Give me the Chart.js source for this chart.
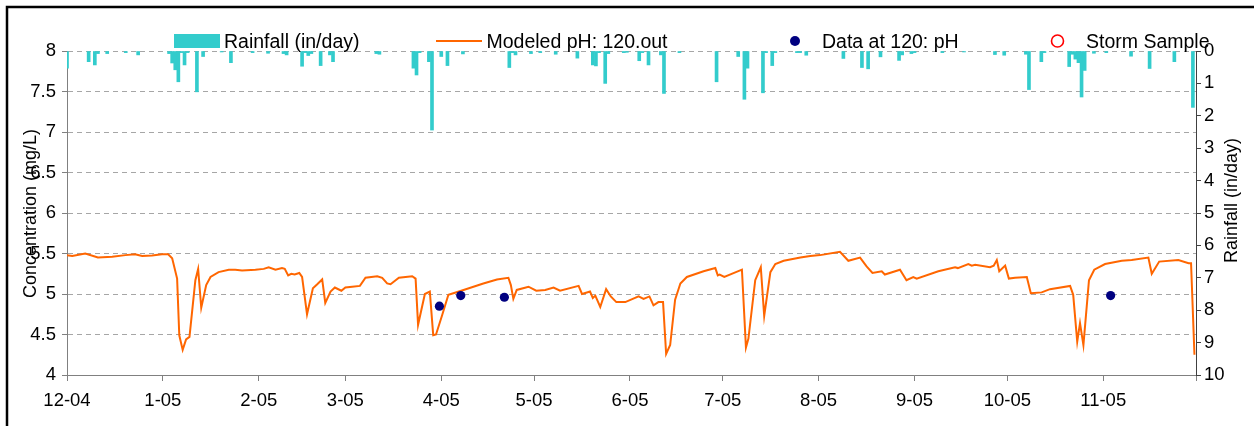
<!DOCTYPE html>
<html>
<head>
<meta charset="utf-8">
<script src="https://cdn.jsdelivr.net/npm/chart.js@4.4.1/dist/chart.umd.min.js"></script>
<style>
  html, body { margin: 0; padding: 0; background: #fff; }
  #wrap { width: 1254px; height: 426px; position: relative; }
</style>
</head>
<body>
<div id="wrap"><canvas id="c" width="1254" height="426"></canvas></div>
<script>
// ---- Data (day offsets from 1 Dec 2004) ----
const tickDays   = [0, 31, 62, 90, 121, 151, 182, 212, 243, 274, 304, 335, 365];
const tickLabels = ['12-04','1-05','2-05','3-05','4-05','5-05','6-05','7-05','8-05','9-05','10-05','11-05',''];

const rainDays   = [0,7,9,10,13,19,23,33,34,35,36,37,38,39,42,44,50,53,60,65,70,71,76,77,78,79,82,85,86,100,101,
                    112,113,114,117,118,121,123,128,143,144,145,150,153,158,165,170,171,172,174,175,180,181,185,186,188,
                    192,193,198,210,217,219,220,225,226,228,229,236,237,239,251,257,259,263,269,270,273,274,283,290,
                    300,303,310,311,315,316,324,325,326,327,328,329,332,336,344,350,358,364];
const rainValues = [0.53,0.33,0.43,0.08,0.08,0.05,0.12,0.08,0.37,0.58,0.95,0.05,0.43,0.05,1.26,0.17,0.03,0.36,0.05,0.07,0.08,0.12,0.47,0.05,0.14,0.08,0.45,0.12,0.33,0.08,0.1,
                    0.53,0.74,0.05,0.33,2.44,0.17,0.45,0.09,0.51,0.05,0.12,0.08,0.05,0.1,0.22,0.43,0.46,0.05,1.0,0.08,0.05,0.04,0.30,0.05,0.43,
                    0.12,1.31,0.05,0.95,0.17,1.49,0.53,1.29,0.05,0.45,0.05,0.05,0.05,0.13,0.23,0.51,0.55,0.18,0.29,0.12,0.08,0.05,0.05,0.03,
                    0.11,0.13,0.1,1.19,0.33,0.05,0.48,0.1,0.25,0.36,1.42,0.6,0.07,0.05,0.16,0.54,0.33,1.74];

const phDays   = [0,1.7,5.9,10,14.6,18.9,22,24.3,27.5,30.7,32.7,34,35.6,36.3,37.4,38.5,39.6,41.5,42.4,43.4,45,46.4,49,52.3,54.4,56.6,60.9,63.6,65.2,67.4,69.5,70.4,71.5,72.5,73.6,75.1,76,77.6,79.5,80.9,82.5,83.5,85.2,86.6,88.7,90,92.2,94.7,96.5,100.3,101.9,103.5,104.6,107.3,111.6,112.7,113.5,115.7,117.3,118.4,119.3,121.3,123.3,124.9,128.2,131.4,134.6,139,142.7,143.5,144.3,145.4,149.2,151.7,154.6,157.3,159.4,165.4,166.5,169.1,170,170.8,172.4,174.3,175.8,177.6,180.5,184.8,186.4,188.3,189.6,191.2,192.7,193.7,195,196.6,198.3,200.4,205.8,209.6,210.4,211,212.5,218.2,219.5,220.3,222.5,224.3,225.4,227.4,229,231.7,237.1,240.3,243.5,249.9,252.6,256.4,258.5,260.4,263.4,264.4,269.3,271.4,273.6,274.7,281.7,287.1,288,291.4,292.5,293.6,298.4,299.6,300.6,301.4,303.3,304.5,306.5,310.3,311.6,315.1,317.8,324.3,325.3,326.6,327.5,328.6,330.4,332.1,335.6,341,344.2,349.6,350.7,353.1,359.3,362.6,363.4,364.5];
const phValues = [5.48,5.47,5.50,5.45,5.46,5.48,5.49,5.47,5.475,5.49,5.49,5.44,5.19,4.49,4.31,4.44,4.47,5.17,5.31,4.83,5.11,5.21,5.27,5.30,5.30,5.29,5.30,5.31,5.33,5.30,5.32,5.31,5.23,5.25,5.24,5.26,5.21,4.75,5.07,5.12,5.18,4.89,5.03,5.08,5.04,5.08,5.09,5.10,5.20,5.22,5.20,5.13,5.12,5.20,5.22,5.19,4.62,5.00,5.03,4.49,4.50,4.74,4.99,5.01,5.05,5.09,5.13,5.18,5.20,5.11,4.94,5.05,5.09,5.04,5.05,5.08,5.04,5.10,5.00,5.03,4.95,4.98,4.84,5.06,4.97,4.90,4.90,4.97,4.94,4.97,4.86,4.90,4.90,4.26,4.37,4.93,5.13,5.21,5.28,5.32,5.23,5.24,5.21,5.30,4.34,4.45,5.17,5.33,4.73,5.27,5.37,5.41,5.45,5.47,5.48,5.52,5.41,5.45,5.34,5.26,5.28,5.24,5.30,5.17,5.21,5.19,5.28,5.33,5.32,5.37,5.35,5.36,5.33,5.35,5.42,5.28,5.35,5.19,5.20,5.21,5.01,5.02,5.06,5.10,4.99,4.41,4.64,4.37,5.17,5.30,5.37,5.41,5.42,5.45,5.25,5.40,5.42,5.38,5.38,4.25];

const obsDays   = [120.4, 127.3, 141.4, 337.4];
const obsValues = [4.85, 4.98, 4.96, 4.98];

const stormDays   = [];
const stormValues = [];

const labels = ['Rainfall (in/day)', 'Modeled pH: 120.out', 'Data at 120: pH', 'Storm Sample'];
const leftTitle  = 'Concentration (mg/L)';
const rightTitle = 'Rainfall (in/day)';

// ---- Build ----
const zip = (xs, ys) => xs.map((x, i) => ({ x: x, y: ys[i] }));
const FONT = '"Liberation Sans", Arial, sans-serif';
const TEAL = '#33CCCC', ORANGE = '#FF6600', NAVY = '#000080', RED = '#FF0000';

Chart.defaults.font.family = FONT;
Chart.defaults.font.size = 18.5;
Chart.defaults.color = '#000';

const overlay = {
  id: 'overlay',
  afterDraw(chart) {
    const ctx = chart.ctx;
    ctx.save();
    // outer frame (left and top visible)
    ctx.strokeStyle = '#000';
    ctx.lineWidth = 2.5;
    ctx.beginPath();
    ctx.moveTo(7, 430); ctx.lineTo(7, 7); ctx.lineTo(1260, 7);
    ctx.stroke();

    ctx.fillStyle = '#000';
    ctx.textBaseline = 'alphabetic';
    ctx.textAlign = 'left';

    // axis titles
    ctx.font = '18px ' + FONT;
    ctx.save();
    ctx.translate(35.5, 298); ctx.rotate(-Math.PI / 2);
    ctx.fillText(leftTitle, 0, 0);
    ctx.restore();
    ctx.save();
    ctx.translate(1237, 263); ctx.rotate(-Math.PI / 2);
    ctx.fillText(rightTitle, 0, 0);
    ctx.restore();

    // legend
    ctx.font = '19.5px ' + FONT;
    const ds = chart.data.datasets;
    const ly = 41, base = 48;
    ctx.fillStyle = TEAL;
    ctx.fillRect(174, 34, 46, 14);
    ctx.fillStyle = '#000';
    ctx.fillText(ds[0].label, 224, base);

    ctx.strokeStyle = ORANGE; ctx.lineWidth = 2;
    ctx.beginPath(); ctx.moveTo(436, ly); ctx.lineTo(482, ly); ctx.stroke();
    ctx.fillText(ds[1].label, 486.5, base);

    ctx.fillStyle = NAVY;
    ctx.beginPath(); ctx.arc(795, ly, 5, 0, Math.PI * 2); ctx.fill();
    ctx.fillStyle = '#000';
    ctx.fillText(ds[2].label, 822, base);

    ctx.strokeStyle = RED; ctx.lineWidth = 1.6;
    ctx.beginPath(); ctx.arc(1057.5, ly, 6, 0, Math.PI * 2); ctx.stroke();
    ctx.fillText(ds[3].label, 1086, base);
    ctx.restore();
  }
};

new Chart(document.getElementById('c'), {
  type: 'bar',
  data: {
    datasets: [
      { type: 'bar', label: labels[0], data: zip(rainDays, rainValues), xAxisID: 'x', yAxisID: 'y2',
        backgroundColor: TEAL, borderWidth: 0, barThickness: 3, order: 3 },
      { type: 'line', label: labels[1], data: zip(phDays, phValues), xAxisID: 'x', yAxisID: 'y',
        borderColor: ORANGE, borderWidth: 2, pointRadius: 0, tension: 0, fill: false, order: 2 },
      { type: 'line', label: labels[2], data: zip(obsDays, obsValues), xAxisID: 'x', yAxisID: 'y',
        showLine: false, pointRadius: 4.6, pointBackgroundColor: NAVY, pointBorderColor: NAVY, borderWidth: 0, order: 1 },
      { type: 'line', label: labels[3], data: zip(stormDays, stormValues), xAxisID: 'x', yAxisID: 'y',
        showLine: false, pointRadius: 6, pointBackgroundColor: 'rgba(0,0,0,0)', pointBorderColor: RED, order: 0 }
    ]
  },
  options: {
    responsive: false,
    animation: false,
    events: [],
    layout: { padding: { top: 51, left: 0, right: 0, bottom: 0 } },
    plugins: { legend: { display: false }, tooltip: { enabled: false }, title: { display: false } },
    scales: {
      x: {
        type: 'linear', position: 'bottom', min: 0, max: 365, offset: false,
        afterBuildTicks: s => { s.ticks = tickDays.map(v => ({ value: v })); },
        afterFit: s => { s.height = 51; },
        ticks: { autoSkip: false, maxRotation: 0, minRotation: 0, padding: 9,
                 callback: (v, i) => tickLabels[i] },
        grid: { offset: false, drawOnChartArea: false, drawTicks: true, tickLength: 6, color: '#808080' },
        border: { display: true, color: '#808080', width: 1 }
      },
      y: {
        type: 'linear', position: 'left', min: 4, max: 8,
        afterFit: s => { s.width = 67; },
        ticks: { stepSize: 0.5, padding: 6, callback: v => String(v) },
        grid: { drawOnChartArea: true, drawTicks: true, tickLength: 5, color: '#a6a6a6',
                tickColor: '#808080', tickBorderDash: [] },
        border: { display: true, color: '#808080', width: 1, dash: [5, 4] }
      },
      y2: {
        type: 'linear', position: 'right', min: 0, max: 10, reverse: true,
        afterFit: s => { s.width = 58; },
        ticks: { stepSize: 1, padding: 3 },
        grid: { drawOnChartArea: false, drawTicks: true, tickLength: 5, color: '#404040' },
        border: { display: true, color: '#404040', width: 1 }
      }
    }
  },
  plugins: [overlay]
});
</script>
</body>
</html>
